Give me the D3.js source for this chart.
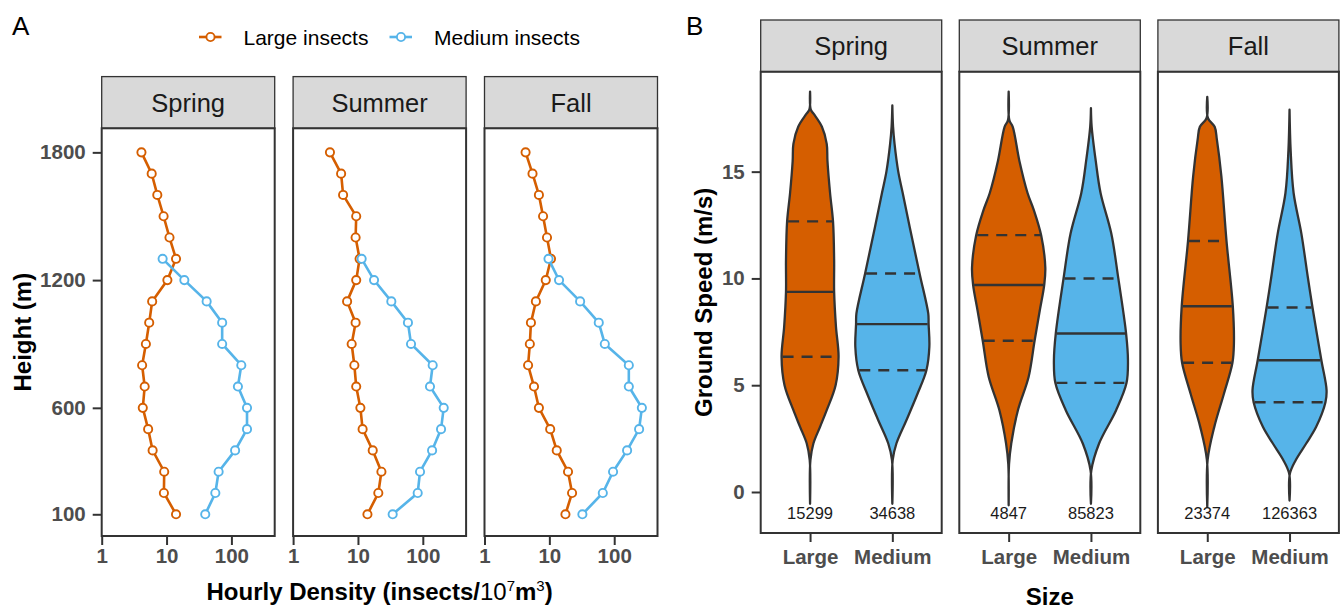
<!DOCTYPE html>
<html>
<head>
<meta charset="utf-8">
<title>Insect density and ground speed</title>
<script src="https://d3js.org/d3.v7.min.js"></script>
<style>
    body { margin: 0; background: #fff; }
    svg { font-family: 'Liberation Sans', Arial, sans-serif; }
    .tick text { font-weight: bold; fill: #4d4d4d; font-size: 20.5px; font-family: 'Liberation Sans', Arial, sans-serif; }
    .tick line { stroke: #333; stroke-width: 2; }
    .strip text { font-size: 25.5px; fill: #1a1a1a; }
    .title { font-weight: bold; font-size: 24px; fill: #000; }
</style>
</head>
<body>
<svg id="fig" width="1344" height="609"></svg>

<script>

// ---- data ----
var seasons = ["Spring", "Summer", "Fall"];
var sizes = ["Large", "Medium"];
var densityTicks = [1, 10, 100];
var heightTicks = [100, 600, 1200, 1800];
var speedTicks = [0, 5, 10, 15];

// panel A: hourly density by height (m)
var largeHeights = [100, 200, 300, 400, 500, 600, 700, 800, 900, 1000, 1100, 1200, 1300, 1400, 1500, 1600, 1700, 1800];
var mediumHeights = [100, 200, 300, 400, 500, 600, 700, 800, 900, 1000, 1100, 1200, 1300];

var springLarge  = [14.0, 9.1, 9.2, 6.1, 5.2, 4.3, 4.6, 4.2, 4.8, 5.4, 6.0, 10.3, 14.0, 11.1, 9.0, 7.2, 5.9, 4.1];
var springMedium = [39.5, 56.5, 63.5, 114, 174, 174, 126, 142, 72, 72, 41.5, 18.8, 8.7];
var summerLarge  = [14.0, 20.6, 23.0, 16.9, 11.8, 10.9, 9.4, 8.8, 8.0, 9.2, 6.8, 9.4, 10.6, 9.2, 9.4, 5.9, 5.5, 3.7];
var summerMedium = [34.3, 83.4, 90.6, 139, 191, 210, 129, 142, 65.8, 59, 32.7, 17.7, 11.4];
var fallLarge    = [17.7, 22.4, 19.4, 13.0, 10.3, 6.9, 5.8, 4.7, 5.0, 5.2, 6.2, 8.8, 10.6, 9.2, 8.0, 6.9, 5.5, 4.3];
var fallMedium   = [32.3, 66.7, 96, 158, 242, 267, 168, 168, 71.6, 57.8, 29.8, 14.1, 9.7];

// panel B: violin outlines, [ground speed, relative half-width]
var springLargeViolin = [[18.75, 0], [17.9, 0.02], [17.7, 0.10], [17.1, 0.32], [16.3, 0.45], [15.5, 0.47], [14.0, 0.54],
    [12.67, 0.62], [10.86, 0.65], [9.37, 0.65], [7.73, 0.70], [6.33, 0.77], [5.0, 0.69], [3.83, 0.45], [3.05, 0.27],
    [2.27, 0.09], [1.5, 0.01], [-0.55, 0]];
var springMediumViolin = [[18.1, 0], [17.1, 0.02], [16.3, 0.06], [15.0, 0.16], [14.0, 0.28], [12.4, 0.47], [10.2, 0.74],
    [8.36, 0.97], [7.86, 0.98], [6.8, 1.0], [5.7, 0.92], [4.6, 0.68], [3.36, 0.38], [2.27, 0.11], [1.5, 0.01], [-0.55, 0]];
var summerLargeViolin = [[18.75, 0], [17.4, 0.02], [17.1, 0.11], [15.5, 0.29], [14.0, 0.51], [13.2, 0.68], [12.0, 0.88],
    [10.5, 0.99], [9.69, 0.96], [8.5, 0.84], [7.08, 0.70], [5.4, 0.54], [3.83, 0.25], [2.27, 0.07], [1.3, 0.01], [-0.62, 0]];
var summerMediumViolin = [[17.97, 0], [17.1, 0.02], [15.5, 0.13], [14.0, 0.26], [12.1, 0.55], [10.0, 0.74], [7.42, 0.95],
    [6.17, 1.0], [5.1, 0.96], [3.83, 0.68], [2.27, 0.22], [1.0, 0.01], [-0.55, 0]];
var fallLargeViolin = [[18.5, 0], [17.5, 0.02], [17.1, 0.2], [16.5, 0.26], [14.8, 0.38], [11.75, 0.52], [8.7, 0.69],
    [6.95, 0.72], [6.05, 0.68], [4.6, 0.45], [3.05, 0.19], [1.5, 0.01], [-0.7, 0]];
var fallMediumViolin = [[17.9, 0], [16.0, 0.03], [14.0, 0.11], [12.1, 0.32], [10.1, 0.49], [8.64, 0.62], [6.17, 0.86],
    [4.77, 1.0], [4.2, 0.97], [3.05, 0.72], [2.27, 0.45], [1.5, 0.17], [0.86, 0.01], [-0.4, 0]];

// quartiles (25, 50, 75) and sample sizes
var springQuartiles = [[6.33, 9.37, 12.67], [5.70, 7.86, 10.23]];
var summerQuartiles = [[7.08, 9.69, 12.03], [5.11, 7.42, 10.0]];
var fallQuartiles   = [[6.05, 8.7, 11.75], [4.2, 6.17, 8.64]];
var springCounts = [15299, 34638];
var summerCounts = [4847, 85823];
var fallCounts   = [23374, 126363];

var colors = {Large: "#D55E00", Medium: "#56B4E9"};

var densityData = [[springLarge, springMedium], [summerLarge, summerMedium], [fallLarge, fallMedium]];
var violinData = [[springLargeViolin, springMediumViolin], [summerLargeViolin, summerMediumViolin], [fallLargeViolin, fallMediumViolin]];
var quartileData = [springQuartiles, summerQuartiles, fallQuartiles];
var countData = [springCounts, summerCounts, fallCounts];

// ---- layout ----
var svg = d3.select("#fig");

var stripH = 51.7;
var A = {left: 101.7, width: 173, gap: 18.4, top: 128.3, bottom: 536};
var B = {left: 760.7, width: 181, gap: 17.6, top: 71.7, bottom: 533};

var xA = d3.scaleLog().domain([1, 465]).range([0, A.width]);
var yA = d3.scaleLinear().domain([-2, 1913]).range([A.bottom, A.top]);
var xB = d3.scalePoint().domain(sizes).range([0, B.width]).padding(0.6);
var yB = d3.scaleLinear().domain([-1.92, 19.68]).range([B.bottom, B.top]);
var wB = d3.scaleLinear().domain([0, 1]).range([0, 0.45 * xB.step()]);

function drawStrip(g, w, top, label) {
    var s = g.append("g").attr("class", "strip");
    s.append("rect")
        .attr("x", 0).attr("y", top - stripH)
        .attr("width", w).attr("height", stripH)
        .attr("fill", "#d9d9d9").attr("stroke", "#333").attr("stroke-width", 1.3);
    s.append("text")
        .attr("x", w / 2).attr("y", top - stripH / 2 + 9.3)
        .attr("text-anchor", "middle")
        .text(label);
}

function styleAxis(g) {
    g.select(".domain").remove();
}

// ---- panel A ----
var lineA = d3.line()
    .x(function (d) { return xA(d[0]); })
    .y(function (d) { return yA(d[1]); });

seasons.forEach(function (season, i) {
    var g = svg.append("g").attr("transform", "translate(" + (A.left + i * (A.width + A.gap)) + ",0)");
    drawStrip(g, A.width, A.top, season);

    sizes.forEach(function (size, j) {
        var hs = j === 0 ? largeHeights : mediumHeights;
        var pts = densityData[i][j].map(function (v, k) { return [v, hs[k]]; });
        g.append("path")
            .datum(pts)
            .attr("d", lineA)
            .attr("fill", "none")
            .attr("stroke", colors[size])
            .attr("stroke-width", 2.6);
        g.selectAll("circle.s" + j)
            .data(pts)
            .enter()
            .append("circle")
            .attr("class", "s" + j)
            .attr("cx", function (d) { return xA(d[0]); })
            .attr("cy", function (d) { return yA(d[1]); })
            .attr("r", 4.1)
            .attr("fill", "#fff")
            .attr("stroke", colors[size])
            .attr("stroke-width", 1.9);
    });

    g.append("rect")
        .attr("x", 0).attr("y", A.top)
        .attr("width", A.width).attr("height", A.bottom - A.top)
        .attr("fill", "none").attr("stroke", "#333").attr("stroke-width", 2);

    g.append("g")
        .attr("transform", "translate(0," + A.bottom + ")")
        .call(d3.axisBottom(xA).tickValues(densityTicks).tickFormat(d3.format("d")).tickSize(9).tickPadding(3))
        .call(styleAxis);

    if (i === 0) {
        g.append("g")
            .call(d3.axisLeft(yA).tickValues(heightTicks).tickFormat(d3.format("d")).tickSize(9).tickPadding(7))
            .call(styleAxis);
    }
});

svg.append("text").attr("class", "title")
    .attr("transform", "translate(31," + ((A.top + A.bottom) / 2) + ") rotate(-90)")
    .attr("text-anchor", "middle")
    .text("Height (m)");

var xt = svg.append("text").attr("class", "title")
    .attr("x", A.left + (3 * A.width + 2 * A.gap) / 2).attr("y", 600)
    .attr("text-anchor", "middle");
xt.append("tspan").text("Hourly Density (insects/");
xt.append("tspan").attr("font-weight", "normal").text("10");
xt.append("tspan").attr("font-weight", "normal").attr("font-size", "15px").attr("dy", -9).text("7");
xt.append("tspan").attr("dy", 9).text("m");
xt.append("tspan").attr("font-weight", "normal").attr("font-size", "15px").attr("dy", -9).text("3");
xt.append("tspan").attr("dy", 9).text(")");

// legend
var legendItems = [
    {label: "Large insects", color: colors.Large, x: 199},
    {label: "Medium insects", color: colors.Medium, x: 389.5}
];
var leg = svg.append("g");
legendItems.forEach(function (d) {
    leg.append("line")
        .attr("x1", d.x).attr("x2", d.x + 22.5)
        .attr("y1", 37).attr("y2", 37)
        .attr("stroke", d.color).attr("stroke-width", 2.6);
    leg.append("circle")
        .attr("cx", d.x + 11.5).attr("cy", 37).attr("r", 4.1)
        .attr("fill", "#fff").attr("stroke", d.color).attr("stroke-width", 1.9);
    leg.append("text")
        .attr("x", d.x + 44.5).attr("y", 44.5)
        .attr("font-size", "21px").attr("fill", "#000")
        .text(d.label);
});

// ---- panel B ----
seasons.forEach(function (season, i) {
    var g = svg.append("g").attr("transform", "translate(" + (B.left + i * (B.width + B.gap)) + ",0)");
    drawStrip(g, B.width, B.top, season);

    sizes.forEach(function (size, j) {
        var cx = xB(size);
        var prof = violinData[i][j];
        var area = d3.area()
            .curve(d3.curveCatmullRom.alpha(0.5))
            .y(function (d) { return yB(d[0]); })
            .x0(function (d) { return cx - wB(d[1]); })
            .x1(function (d) { return cx + wB(d[1]); });
        g.append("path")
            .datum(prof)
            .attr("d", area)
            .attr("fill", colors[size])
            .attr("stroke", "#333")
            .attr("stroke-width", 2.3)
            .attr("stroke-linejoin", "round");

        var widthAt = d3.scaleLinear()
            .domain(prof.map(function (d) { return d[0]; }))
            .range(prof.map(function (d) { return d[1]; }));
        quartileData[i][j].forEach(function (q, k) {
            var hw = wB(widthAt(q)) - 1;
            g.append("line")
                .attr("x1", cx - hw).attr("x2", cx + hw)
                .attr("y1", yB(q)).attr("y2", yB(q))
                .attr("stroke", "#333")
                .attr("stroke-width", 2.4)
                .attr("stroke-dasharray", k === 1 ? null : "11,8");
        });

        g.append("text")
            .attr("x", cx).attr("y", yB(-1) + 6)
            .attr("text-anchor", "middle")
            .attr("font-size", "16.5px")
            .attr("fill", "#1a1a1a")
            .text(countData[i][j]);
    });

    g.append("rect")
        .attr("x", 0).attr("y", B.top)
        .attr("width", B.width).attr("height", B.bottom - B.top)
        .attr("fill", "none").attr("stroke", "#333").attr("stroke-width", 2);

    g.append("g")
        .attr("transform", "translate(0," + B.bottom + ")")
        .call(d3.axisBottom(xB).tickSize(9).tickPadding(7))
        .call(styleAxis);

    if (i === 0) {
        g.append("g")
            .call(d3.axisLeft(yB).tickValues(speedTicks).tickSize(9).tickPadding(7))
            .call(styleAxis);
    }
});

svg.append("text").attr("class", "title")
    .attr("transform", "translate(712," + ((B.top + B.bottom) / 2) + ") rotate(-90)")
    .attr("text-anchor", "middle")
    .text("Ground Speed (m/s)");

svg.append("text").attr("class", "title")
    .attr("x", B.left + (3 * B.width + 2 * B.gap) / 2).attr("y", 605)
    .attr("text-anchor", "middle")
    .text("Size");

svg.append("text").attr("x", 12).attr("y", 35).attr("font-size", "26px").text("A");
svg.append("text").attr("x", 686).attr("y", 35).attr("font-size", "26px").text("B");

</script>
</body>
</html>
